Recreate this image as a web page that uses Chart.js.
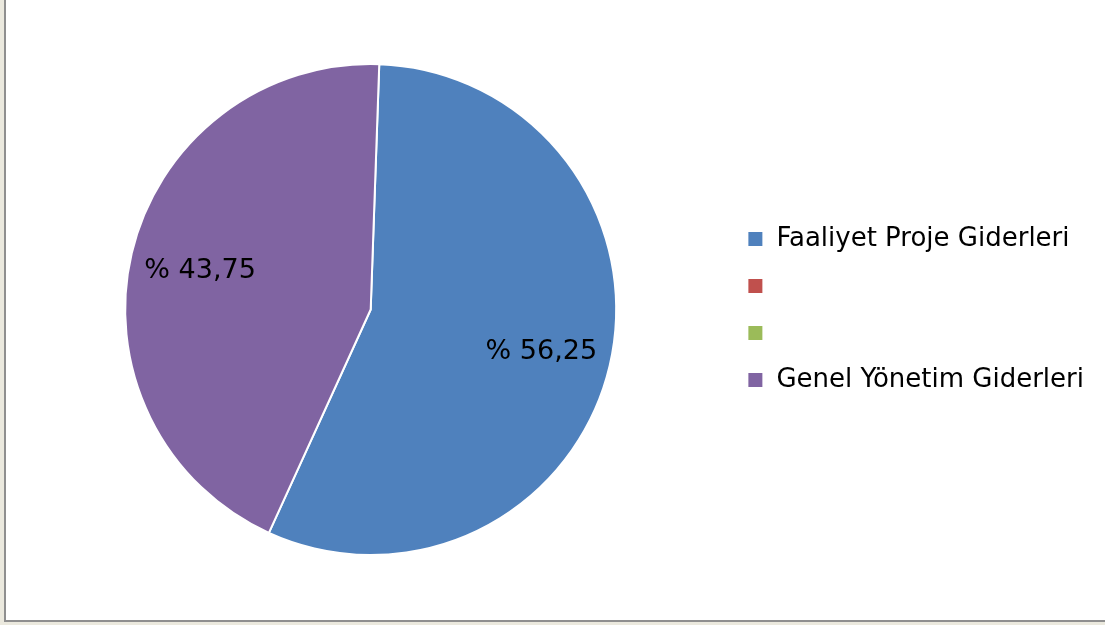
<!DOCTYPE html>
<html>
<head>
<meta charset="utf-8">
<script src="https://cdn.jsdelivr.net/npm/chart.js@4.4.1/dist/chart.umd.min.js"></script>
<style>
    html, body { margin: 0; padding: 0; }
    body {
        width: 1105px;
        height: 625px;
        background: #ebe9de;
        position: relative;
        overflow: hidden;
    }
    #cerceve {
        position: absolute;
        left: 4px;
        top: -4px;
        width: 1130px;
        height: 626px;
        box-sizing: border-box;
        border: 2px solid #8f8f8f;
        background: #ffffff;
    }
    #kutu {
        position: absolute;
        left: 0;
        top: 0;
        width: 1105px;
        height: 625px;
    }
</style>
</head>
<body>
<div id="cerceve"></div>
<div id="kutu"><canvas id="canvas_grafico" width="1105" height="625"></canvas></div>
<script>
// Giderlerin dağılımı (%)
const kategoriler = ['Faaliyet Proje Giderleri', '', '', 'Genel Yönetim Giderleri'];
const degerler = [56.25, 0, 0, 43.75];
const renkler = ['#4f81bd', '#c0504d', '#9bbb59', '#8064a2'];

// Dilimlerin üzerine "% 56,25" gibi etiket yazar
const yuzdeEtiketleri = {
    id: 'yuzdeEtiketleri',
    afterDatasetsDraw(chart) {
        const ctx = chart.ctx;
        const meta = chart.getDatasetMeta(0);
        const veri = chart.data.datasets[0].data;
        const toplam = veri.reduce((a, b) => a + b, 0);
        ctx.save();
        ctx.font = '27px "DejaVu Sans", Verdana, sans-serif';
        ctx.fillStyle = '#000000';
        ctx.textAlign = 'center';
        ctx.textBaseline = 'middle';
        meta.data.forEach(function(arc, i) {
            if (!veri[i]) return;
            const p = arc.getProps(['x', 'y', 'startAngle', 'endAngle', 'outerRadius'], true);
            const orta = (p.startAngle + p.endAngle) / 2;
            const r = p.outerRadius * 0.714;
            const yuzde = (veri[i] / toplam * 100).toFixed(2).replace('.', ',');
            ctx.fillText('% ' + yuzde, p.x + Math.cos(orta) * r, p.y + Math.sin(orta) * r + 2);
        });
        ctx.restore();
    }
};

const ctx = document.getElementById('canvas_grafico').getContext('2d');
new Chart(ctx, {
    type: 'pie',
    data: {
        labels: kategoriler,
        datasets: [{
            data: degerler,
            backgroundColor: renkler,
            borderColor: '#ffffff',
            borderWidth: 2
        }]
    },
    options: {
        responsive: false,
        animation: false,
        rotation: 2,
        layout: {
            padding: { left: 15, right: 11, top: 63, bottom: 69 }
        },
        plugins: {
            tooltip: { enabled: false },
            legend: {
                display: true,
                position: 'right',
                labels: {
                    boxWidth: 16,
                    boxHeight: 16,
                    padding: 21,
                    color: '#000000',
                    font: {
                        family: '"DejaVu Sans", Verdana, sans-serif',
                        size: 26
                    }
                }
            }
        }
    },
    plugins: [yuzdeEtiketleri]
});
</script>
</body>
</html>
